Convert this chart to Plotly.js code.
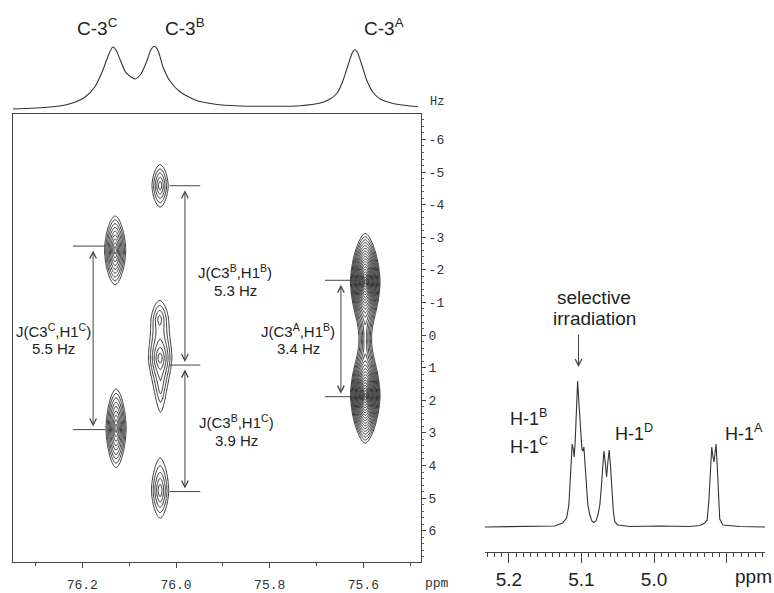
<!DOCTYPE html>
<html>
<head>
<meta charset="utf-8">
<script src="https://cdn.plot.ly/plotly-3.0.1.min.js"></script>
<style>html,body{margin:0;padding:0;background:#fff;}#chart{width:774px;height:593px;}</style>
</head>
<body>
<div id="chart"></div>
<script>
// ---------- DATA ----------
// 13C 1D projection (top): chemical shift (ppm) and intensity (arbitrary units)
const c13Ppm = [76.348,76.290,76.248,76.216,76.194,76.173,76.156,76.145,76.135,76.128,76.119,76.107,76.087,76.075,76.062,76.054,76.046,76.038,76.028,76.013,75.991,75.959,75.916,75.863,75.799,75.735,75.692,75.671,75.656,75.643,75.632,75.624,75.619,75.613,75.604,75.593,75.580,75.564,75.532,75.500,75.483];
const c13Int = [1,2.3,4,7.7,13,23.3,40,54,63,60,50,37.3,31,36,49.3,60,63.7,59,43.3,29,18,10,5.7,4,3.7,4.3,7,11,17,30,46,57,60.3,58,46,30,18,11,6,4,3.3];

// 1H spectrum (right): chemical shift (ppm) and intensity (arbitrary units)
const h1Ppm = [5.236,5.185,5.137,5.126,5.1205,5.119,5.1174,5.116,5.1146,5.1128,5.1114,5.110,5.1087,5.1073,5.1053,5.1036,5.1015,5.0994,5.098,5.0967,5.0953,5.093,5.0912,5.0884,5.0857,5.083,5.080,5.0774,5.0747,5.0726,5.0705,5.0691,5.0673,5.0654,5.0636,5.0618,5.0601,5.058,5.056,5.054,5.050,5.0333,4.992,4.951,4.937,4.930,4.9268,4.9245,4.9225,4.9204,4.9187,4.9172,4.9158,4.9145,4.9128,4.9107,4.9094,4.905,4.882,4.845];
const h1Int = [0,0.5,1,4,9,15,22,40,65,83,78,70,85,115,146,125,95,78,76,80,65,34,22,12,6,4.5,6,12,22,40,65,76,65,50,65,77,62,35,15,5,2,0.5,1,0.5,1.5,4,7,25,55,80,70,65,75,83,60,25,8,2,0.5,0];

// 2D cross peaks: 13C shift (ppm), J-offset (Hz), height, widths
const peakPpm      = [76.130, 76.128, 76.034, 76.034, 76.035, 76.033, 76.034, 75.596, 75.596, 75.596];
const peakHz       = [-2.60,  2.86,  -4.58,  0.70,  -0.50,  1.60,   4.77,  -1.63,  1.85,   0.10];
const peakHeight   = [9.5,    9.5,    3.5,    3.5,    2.0,    1.5,    3.5,    90,     90,     3.0];
const peakWidthPpm = [0.0100, 0.0095, 0.0137, 0.0144, 0.0169, 0.0160, 0.0137, 0.0069, 0.0069, 0.0090];
const peakWidthHz  = [0.467,  0.533,  0.512,  0.456,  0.571,  1.25,   0.64,   0.304,  0.300,  1.45];

// coupling arrows (ppm position, from Hz, to Hz)
const jArrowPpm  = [76.177, 75.981, 75.981, 75.648];
const jArrowFrom = [-2.73, -4.58, 0.92, -1.68];
const jArrowTo   = [2.90, 0.92, 4.80, 1.89];
// horizontal reference marks (Hz, ppm start, ppm end)
const markHz   = [-2.73, 2.90, -4.58, 0.92, 4.80, -1.68, 1.89];
const markFrom = [76.220, 76.220, 76.014, 76.014, 76.014, 75.682, 75.682];
const markTo   = [76.151, 76.151, 75.948, 75.948, 75.948, 75.611, 75.611];

// labels
const jLabels = ['J(C3<sup>B</sup>,H1<sup>B</sup>)','5.3 Hz','J(C3<sup>C</sup>,H1<sup>C</sup>)','5.5 Hz','J(C3<sup>A</sup>,H1<sup>B</sup>)','3.4 Hz','J(C3<sup>B</sup>,H1<sup>C</sup>)','3.9 Hz'];
const c3Labels = ['C-3<sup>C</sup>','C-3<sup>B</sup>','C-3<sup>A</sup>'];
const h1Labels = ['H-1<sup>B</sup>','H-1<sup>C</sup>','H-1<sup>D</sup>','H-1<sup>A</sup>'];
const hzTickVals = [-6,-5,-4,-3,-2,-1,0,1,2,3,4,5,6];
const hzTickText = ['-6','-5','-4','-3','-2','-1','0','1','2','3','4','5','6'];

// ---------- BUILD 2D GRID FROM PEAK LIST ----------
const gx = [], gy = [];
for (let v = 75.478; v <= 76.348; v += 0.0016) gx.push(+v.toFixed(5));
for (let v = -6.75; v <= 6.95; v += 0.035) gy.push(+v.toFixed(4));
const P = 1.7;
const gz = gy.map(yv => gx.map(xv => {
  let s = 0;
  for (let i = 0; i < peakPpm.length; i++) {
    const u = Math.abs(xv - peakPpm[i]) / peakWidthPpm[i];
    const w = Math.abs(yv - peakHz[i]) / peakWidthHz[i];
    const r = Math.pow(Math.pow(u, P) + Math.pow(w, P), 1 / P);
    s += peakHeight[i] * Math.exp(-r);
  }
  return Math.log(s + 1e-9);
}));

const W = 774, H = 593;
const px = x => x / W, py = y => 1 - y / H;
const sans = 'Liberation Sans, Arial, sans-serif';
const mono = 'Liberation Mono, Courier New, monospace';

const traces = [
  {type:'contour', x:gx, y:gy, z:gz, xaxis:'x', yaxis:'y',
   autocontour:false, contours:{coloring:'lines', start:0, end:4.6, size:0.25, showlabels:false},
   colorscale:[[0,'#000'],[1,'#000']], showscale:false, line:{width:0.8, smoothing:1}, hoverinfo:'skip'},
  {type:'scatter', mode:'lines', x:c13Ppm, y:c13Int, xaxis:'x2', yaxis:'y2',
   line:{color:'#333', width:1.1, shape:'spline', smoothing:0.6}, hoverinfo:'skip'},
  {type:'scatter', mode:'lines', x:h1Ppm, y:h1Int, xaxis:'x3', yaxis:'y3',
   line:{color:'#333', width:1.1}, hoverinfo:'skip'}
];

const shapes = markHz.map((h, i) => ({type:'line', xref:'x', yref:'y', x0:markFrom[i], x1:markTo[i], y0:h, y1:h, line:{color:'#444', width:1}}));

const annotations = [];
jArrowPpm.forEach((p, i) => annotations.push({
  xref:'x', yref:'y', axref:'x', ayref:'y', x:p, y:jArrowTo[i], ax:p, ay:jArrowFrom[i],
  text:'', showarrow:true, arrowside:'end+start', arrowhead:5, startarrowhead:5,
  arrowsize:1.3, startarrowsize:1.3, arrowwidth:1, arrowcolor:'#444', standoff:3, startstandoff:3
}));
const jPos = [[235,272],[235,290],[53,330],[53,348],[298,330],[298,348],[236,422],[236,440]];
jLabels.forEach((t, i) => annotations.push({xref:'paper', yref:'paper', x:px(jPos[i][0]), y:py(jPos[i][1]),
  text:t, showarrow:false, xanchor:'center', yanchor:'middle', font:{family:sans, size:15, color:'#222'}}));
const c3Pos = [[75,27],[163,27],[362,27]];
c3Labels.forEach((t, i) => annotations.push({xref:'paper', yref:'paper', x:px(c3Pos[i][0]), y:py(c3Pos[i][1]),
  text:t, showarrow:false, xanchor:'left', yanchor:'middle', font:{family:sans, size:19, color:'#222'}}));
const h1Pos = [[508,417],[508,445],[613,432],[723,432]];
h1Labels.forEach((t, i) => annotations.push({xref:'paper', yref:'paper', x:px(h1Pos[i][0]), y:py(h1Pos[i][1]),
  text:t, showarrow:false, xanchor:'left', yanchor:'middle', font:{family:sans, size:18, color:'#222'}}));
annotations.push(
  {xref:'paper', yref:'paper', x:px(594), y:py(297), text:'selective', showarrow:false, xanchor:'center', yanchor:'middle', font:{family:sans, size:19, color:'#222'}},
  {xref:'paper', yref:'paper', x:px(594), y:py(318), text:'irradiation', showarrow:false, xanchor:'center', yanchor:'middle', font:{family:sans, size:19, color:'#222'}},
  {xref:'paper', yref:'paper', x:px(578.5), y:py(367), ax:0, ay:-34, text:'', showarrow:true, arrowhead:5, arrowsize:1.3, arrowwidth:1, arrowcolor:'#444'},
  {xref:'paper', yref:'paper', x:px(753), y:py(576), text:'ppm', showarrow:false, xanchor:'center', yanchor:'middle', font:{family:sans, size:19, color:'#222'}},
  {xref:'paper', yref:'paper', x:px(437), y:py(583), text:'ppm', showarrow:false, xanchor:'center', yanchor:'middle', font:{family:mono, size:13, color:'#333'}},
  {xref:'paper', yref:'paper', x:px(437), y:py(102), text:'Hz', showarrow:false, xanchor:'center', yanchor:'middle', font:{family:mono, size:12, color:'#333'}}
);

const layout = {
  width:W, height:H, margin:{l:0,r:0,t:0,b:0}, paper_bgcolor:'#fff', plot_bgcolor:'#fff', showlegend:false,
  xaxis:{domain:[px(13), px(421)], range:[76.348, 75.477], anchor:'y', showgrid:false, zeroline:false,
    showline:true, linecolor:'#444', linewidth:1, mirror:true, ticks:'outside', ticklen:5, tickcolor:'#444',
    tickmode:'linear', tick0:75.6, dtick:0.2, tickformat:'.1f', ticklabelstandoff:5,
    tickfont:{family:mono, size:13, color:'#333'}, minor:{dtick:0.1, tick0:75.5, ticks:'outside', ticklen:3, tickcolor:'#444'}},
  yaxis:{domain:[py(562), py(114)], range:[6.96, -6.78], anchor:'x', side:'right', showgrid:false, zeroline:false,
    showline:true, linecolor:'#444', linewidth:1, mirror:true, ticks:'outside', ticklen:4, tickcolor:'#444',
    tickmode:'array', tickvals:hzTickVals, ticktext:hzTickText, tickfont:{family:mono, size:13, color:'#333'},
    minor:{dtick:0.2, tick0:0, ticks:'outside', ticklen:2, tickcolor:'#666'}},
  xaxis2:{domain:[px(13), px(421)], range:[76.348, 75.477], anchor:'y2', visible:false},
  yaxis2:{domain:[py(112), py(30)], range:[-2, 80], anchor:'x2', visible:false},
  xaxis3:{domain:[px(485), px(765)], range:[5.233, 4.847], anchor:'y3', showgrid:false, zeroline:false,
    showline:true, linecolor:'#444', linewidth:1, ticks:'outside', ticklen:10, tickcolor:'#444',
    tickmode:'array', tickvals:[5.2,5.1,5.0,4.9], ticktext:['5.2','5.1','5.0',''],
    tickfont:{family:sans, size:19, color:'#222'}, minor:{dtick:0.01, tick0:5.0, ticks:'outside', ticklen:4, tickcolor:'#444'}},
  yaxis3:{domain:[py(552), py(370)], range:[-25, 157], anchor:'x3', visible:false},
  shapes:shapes, annotations:annotations
};

Plotly.newPlot('chart', traces, layout, {staticPlot:true, displayModeBar:false});
</script>
</body>
</html>
